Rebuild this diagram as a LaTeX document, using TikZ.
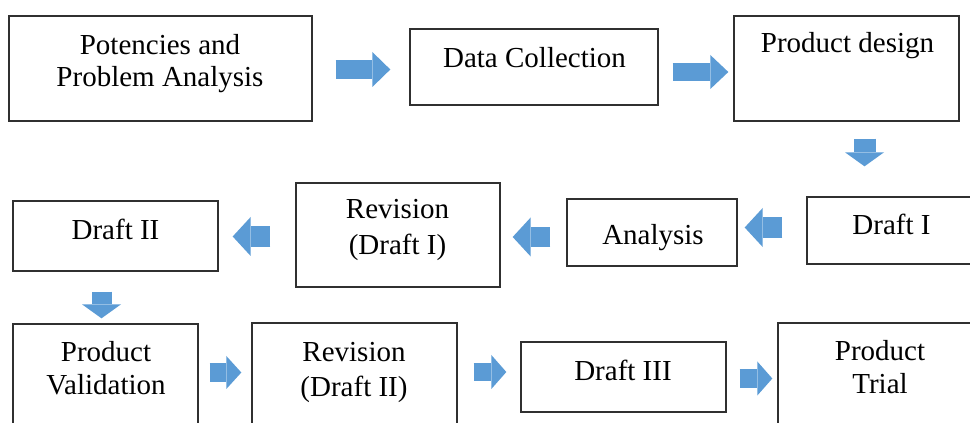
\documentclass[tikz,border=0pt]{standalone}
\usepackage{fontspec}
\setmainfont{Liberation Serif}
\usetikzlibrary{arrows.meta,calc,fit}
\definecolor{arrowblue}{HTML}{5B9BD5}
\definecolor{boxline}{HTML}{303030}
\tikzset{
  box/.style={draw=boxline, line width=1pt, inner sep=0pt, fill=none},
  txt/.style={font=\fontsize{21.75pt}{26pt}\selectfont, anchor=base, inner sep=0pt, text=black},
  barrow/.style n args={3}{draw=arrowblue, line width=#1,
     -{Triangle[length=#2, width=#3, line width=0pt]}}
}
\begin{document}
\begin{tikzpicture}[x=0.75pt,y=-0.75pt]
\useasboundingbox (0,0) rectangle (970,423);
% boxes
\node[box, fit={(9,16)(312,121)}] (b1) {};
\node[box, fit={(410,29)(658,105)}] (b2) {};
\node[box, fit={(734,16)(959,121)}] (b3) {};
\node[box, fit={(807,197)(990,264)}] (b4) {};
\node[box, fit={(567,199)(737,266)}] (b5) {};
\node[box, fit={(296,183)(500,287)}] (b6) {};
\node[box, fit={(13,201)(218,271)}] (b7) {};
\node[box, fit={(13,324)(198,440)}] (b8) {};
\node[box, fit={(252,323)(457,440)}] (b9) {};
\node[box, fit={(521,342)(726,412)}] (b10) {};
\node[box, fit={(778,323)(990,440)}] (b11) {};
% texts
\node[txt] (t1a) at (160,55) {Potencies and};
\node[txt] (t1b) at (160,87) {Problem Analysis};
\node[txt] (t2) at (534.5,68) {Data Collection};
\node[txt] (t3) at (847.5,53) {Product design};
\node[txt] (t4) at (891.5,235) {Draft I};
\node[txt] (t5) at (653,245) {Analysis};
\node[txt] (t6a) at (397.5,219) {Revision};
\node[txt] (t6b) at (397.5,255) {(Draft I)};
\node[txt] (t7) at (115.5,240) {Draft II};
\node[txt] (t8a) at (106,362) {Product};
\node[txt] (t8b) at (106,395) {Validation};
\node[txt] (t9a) at (354,362) {Revision};
\node[txt] (t9b) at (354,396.5) {(Draft II)};
\node[txt] (t10) at (623,381) {Draft III};
\node[txt] (t11a) at (880,361) {Product};
\node[txt] (t11b) at (880,394) {Trial};
% block arrows
\draw[barrow={14.25pt}{13.5pt}{26.25pt}] ($(b1.east)+(23,1)$) -- ($(b2.west)+(-19,2.5)$);
\draw[barrow={13.5pt}{13.5pt}{25.5pt}] ($(b2.east)+(14,5)$) -- ($(b3.west)+(-5,3.5)$);
\draw[barrow={16.5pt}{10.5pt}{29.25pt}] ($(b3.south)+(18,17)$) -- ($(b4.north)+(-34,-30)$);
\draw[barrow={15.75pt}{13.5pt}{29.25pt}] ($(b4.west)+(-24,-3)$) -- ($(b5.east)+(7,-5)$);
\draw[barrow={15pt}{13.5pt}{29.25pt}] ($(b5.west)+(-16,4.5)$) -- ($(b6.east)+(12,2)$);
\draw[barrow={15.75pt}{13.5pt}{29.25pt}] ($(b6.west)+(-25,1.5)$) -- ($(b7.east)+(14,0.5)$);
\draw[barrow={15pt}{10.5pt}{29.25pt}] ($(b7.south)+(-14,20)$) -- ($(b8.north)+(-4,-5)$);
\draw[barrow={14.25pt}{11.25pt}{24.75pt}] ($(b8.east)+(11,-9.5)$) -- ($(b9.west)+(-10,-9)$);
\draw[barrow={13.5pt}{11.25pt}{25.5pt}] ($(b9.east)+(16,-9.5)$) -- ($(b10.west)+(-14,-5)$);
\draw[barrow={14.25pt}{11.25pt}{25.5pt}] ($(b10.east)+(13,1.5)$) -- ($(b11.west)+(-5,-3)$);
\end{tikzpicture}
\end{document}
